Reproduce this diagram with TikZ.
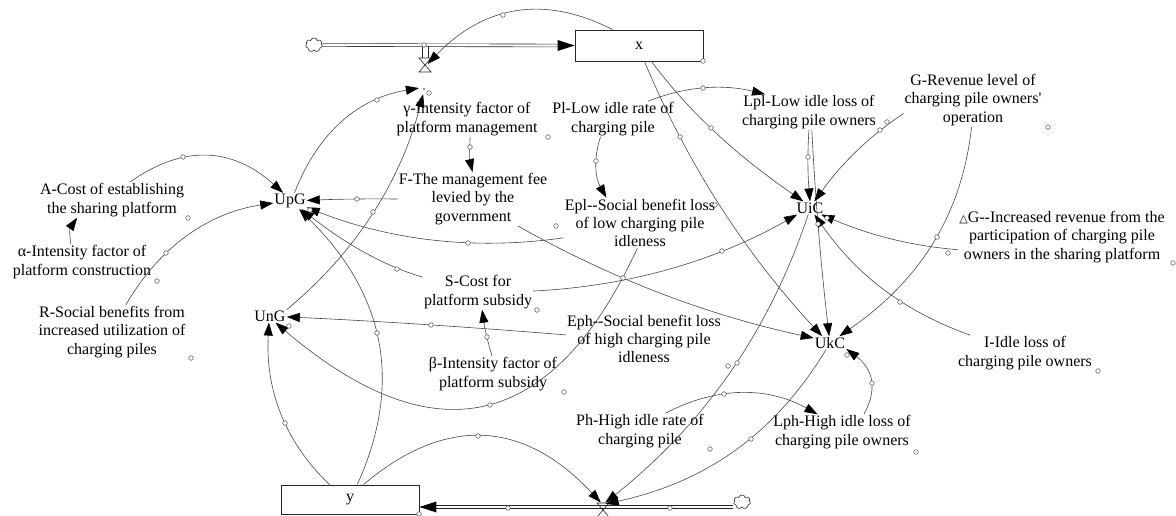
\documentclass[tikz,border=0pt]{standalone}
\usepackage{fontspec}
\setmainfont{Liberation Serif}[Ligatures=TeXOff]
\newfontfamily\symfont{DejaVu Sans}
\usetikzlibrary{arrows.meta,shapes.symbols,calc}

% \vlink[opts]{from}{to}{Sx}{Sy}{Hx}{Hy}{Ex}{Ey}: curve from node to node passing near handle H
\newcommand\vlink[9][]{%
  \pgfmathsetmacro\lkT{(((#6)-(#4))/100*((#8)-(#4))/100+((#7)-(#5))/100*((#9)-(#5))/100)/((((#8)-(#4))/100)^2+(((#9)-(#5))/100)^2)}%
  \pgfmathsetmacro\lkT{max(0.2,min(0.8,\lkT))}%
  \pgfmathsetmacro\lkCx{((#6)-(1-\lkT)^2*(#4)-(\lkT)^2*(#8))/(2*\lkT*(1-\lkT))}%
  \pgfmathsetmacro\lkCy{((#7)-(1-\lkT)^2*(#5)-(\lkT)^2*(#9))/(2*\lkT*(1-\lkT))}%
  \pgfmathsetmacro\lkAx{(#4)+2/3*(\lkCx-(#4))}%
  \pgfmathsetmacro\lkAy{(#5)+2/3*(\lkCy-(#5))}%
  \pgfmathsetmacro\lkBx{(#8)+2/3*(\lkCx-(#8))}%
  \pgfmathsetmacro\lkBy{(#9)+2/3*(\lkCy-(#9))}%
  \pgfpointdiff{\pgfpointanchor{#2}{center}}{\pgfpointxy{#4}{#5}}\pgfgetlastxy{\lkdx}{\lkdy}%
  \pgfmathtruncatemacro\lkaS{mod(atan2(\lkdy,\lkdx)+360,360)}%
  \pgfpointdiff{\pgfpointanchor{#3}{center}}{\pgfpointxy{#8}{#9}}\pgfgetlastxy{\lkdx}{\lkdy}%
  \pgfmathtruncatemacro\lkaE{mod(atan2(\lkdy,\lkdx)+360,360)}%
  \draw[conn,#1] (#2.\lkaS) .. controls (\lkAx,\lkAy) and (\lkBx,\lkBy) .. (#3.\lkaE);%
}

\begin{document}
\begin{tikzpicture}[x=1pt,y=-1pt,
  lbl/.style={font=\fontsize{16}{18.4}\selectfont, align=center, inner sep=1pt, text=black},
  conn/.style={draw=black!72, line width=0.6pt, -{Triangle[length=13pt,width=9pt,color=black]}},
  hdl/.style={draw=black!70, fill=white, line width=0.5pt},
  stock/.style={draw=black!85, line width=0.8pt, inner sep=0pt, font=\fontsize{16}{18}\selectfont},
  pipe/.style={draw=black!85, double=white, double distance=2.2pt, line width=0.6pt},
  cloudy/.style={cloud, cloud puffs=7, draw=black!80, line width=0.6pt, minimum width=17pt, minimum height=14pt, inner sep=0pt},
  valvept/.style={circle, inner sep=0pt, minimum size=5pt},
  hglass/.style={draw=black!85, line width=0.6pt}
]
\useasboundingbox (0,0) rectangle (1176,516);

% stocks, clouds, valves
\node[stock, minimum width=128pt, minimum height=31pt] (xbox) at (639,45.5) {x};
\node[stock, minimum width=138pt, minimum height=29pt] (ybox) at (350,499.5) {y};
\node[cloudy] (cl1) at (314,45) {};
\node[cloudy] (cl2) at (742,502) {};
\node[valvept] (tv) at (425,64) {};
\node[circle, inner sep=0pt, minimum size=10pt] (tvl) at (424,89) {};
\node[valvept] (bv) at (603,504) {};
\fill[black!80] (tvl.center) circle[radius=0.9];

% top flow (into x)
\draw[pipe] (cl1.east) -- ($(xbox.west)+(-15,0)$);
\fill[black] (xbox.west) -- ++(-17,-5.5) -- ++(0,11) -- cycle;
\draw[black!85, line width=0.5pt] (422,46) -- (422,58) (428,46) -- (428,58);
\draw[hglass] (419,58) -- (431,58) -- (419,72) -- (431,72) -- cycle;

% bottom flow (into y)
\coordinate (yin) at ($(ybox.east)+(0,7.5)$);
\draw[pipe] (cl2.west |- yin) -- ($(yin)+(15,0)$);
\fill[black] (yin) -- ++(17,-5.5) -- ++(0,11) -- cycle;
\draw[hglass] (597,503) -- (609,503) -- (597,517) -- (609,517) -- cycle;

% variables
\node[lbl] (gam) at (467,119) {γ-Intensity factor of\\platform management};
\node[lbl] (F) at (473,199) {F-The management fee\\levied by the\\government};
\node[lbl] (Pl) at (613,119) {Pl-Low idle rate of\\charging pile};
\node[lbl] (Lpl) at (809,112) {Lpl-Low idle loss of\\charging pile owners};
\node[lbl] (G) at (973,100) {G-Revenue level of\\charging pile owners'\\operation};
\node[lbl] (A) at (112,200) {A-Cost of establishing\\the sharing platform};
\node[lbl] (alpha) at (82,262) {α-Intensity factor of\\platform construction};
\node[lbl] (R) at (112,332) {R-Social benefits from\\increased utilization of\\charging piles};
\node[lbl] (UpG) at (290,201) {UpG};
\node[lbl] (UnG) at (270,316) {UnG};
\node[lbl] (Epl) at (640,223) {Epl--Social benefit loss\\of low charging pile\\idleness};
\node[lbl] (S) at (478,292) {S-Cost for\\platform subsidy};
\node[lbl] (Eph) at (644,339) {Eph--Social benefit loss\\of high charging pile\\idleness};
\node[lbl] (beta) at (493,374) {β-Intensity factor of\\platform subsidy};
\node[lbl] (UiC) at (810,208) {UiC};
\node[lbl] (UkC) at (830,343) {UkC};
\node[lbl] (dG) at (1062,237) {{\symfont\fontsize{11}{11}\selectfont △}G--Increased revenue from the\\participation of charging pile\\owners in the sharing platform};
\node[lbl] (I) at (1025,353) {I-Idle loss of\\charging pile owners};
\node[lbl] (Ph) at (640,431) {Ph-High idle rate of\\charging pile};
\node[lbl] (Lph) at (842,432) {Lph-High idle loss of\\charging pile owners};

% connectors
\vlink{xbox}{tv}{613}{30}{503}{15}{432}{64}
\vlink{UpG}{tvl}{297}{188}{377}{100}{418}{88}
\vlink{UnG}{tvl}{285}{310}{373}{212}{423}{95}
\vlink{A}{UpG}{132}{180}{183}{157}{279}{188}
\vlink{alpha}{A}{70}{243}{69.5}{232.5}{69}{222}
\vlink{R}{UpG}{127}{302}{166}{253}{274}{203}
\vlink{F}{UpG}{393}{199}{357}{199}{312}{200}
\vlink{Epl}{UpG}{560}{239}{468}{243}{311}{209}
\vlink{S}{UpG}{418}{277}{397}{269}{307}{213}
\vlink{ybox}{UpG}{357}{485}{377}{333}{308}{217}
\vlink{ybox}{UnG}{330}{485}{285}{423}{268}{330}
\vlink{Epl}{UnG}{637}{252}{490}{405}{282}{330}
\vlink{Eph}{UnG}{562}{335}{431}{325}{290}{317}
\vlink{gam}{F}{471}{140}{470}{150}{472}{170}
\vlink{Pl}{Epl}{600}{138}{596}{161}{604}{196}
\vlink{Pl}{Lpl}{650}{100}{703}{88}{760}{93}
\vlink{beta}{S}{492}{355}{487}{337}{483}{313}
\vlink{xbox}{UiC}{652}{62}{711}{128}{790}{188}
\vlink{xbox}{UkC}{645}{62}{680}{137}{815}{330}
\vlink{Lpl}{UiC}{809}{130}{808}{157}{810}{196}
\vlink{Lpl}{UkC}{812}{130}{818}{224}{828}{328}
\vlink{G}{UiC}{900}{115}{880}{130}{820}{192}
\vlink{G}{UkC}{972}{128}{937}{237}{852}{327}
\vlink{S}{UiC}{537}{290}{722}{251}{793}{217}
\vlink{dG}{UiC}{948}{253}{885}{238}{828}{218}
\vlink{I}{UiC}{960}{333}{900}{302}{821}{224}
\vlink{F}{UkC}{520}{227}{623}{278}{810}{337}
\vlink{UkC}{bv}{823}{355}{751}{439}{620}{503}
\vlink{UiC}{bv}{807}{220}{737}{363}{615}{497}
\vlink{ybox}{bv}{363}{485}{478}{436}{597}{500}
\vlink{Ph}{Lph}{667}{412}{724}{394}{818}{415}
\vlink{Lph}{UkC}{865}{413}{872}{383}{855}{352}

% handles
\foreach \p in {(503,15),(377,100),(373,212),(183,157),(166,253),(357,199),(468,243),(397,269),
  (377,333),(285,423),(490,405),(431,325),(470,147),(596,161),(703,88),(487,337),(711,128),
  (680,137),(808,157),(818,224),(880,130),(937,237),(722,251),(948,253),(900,302),(623,278),
  (751,439),(737,363),(478,436),(724,394),(872,383),
  (548,137),(887,122),(1048,127),(188,218),(157,281),(191,358),(310,210),(289,326),(715,205),
  (556,226),(537,310),(728,366),(564,392),(827,218),(847,355),(1173,263),(1098,371),(710,449),
  (916,452),(703,61),(419,514),(429,93),(424,45),(508,508),(670,508)}
  \draw[hdl] \p circle[radius=2.3];
\end{tikzpicture}
\end{document}
